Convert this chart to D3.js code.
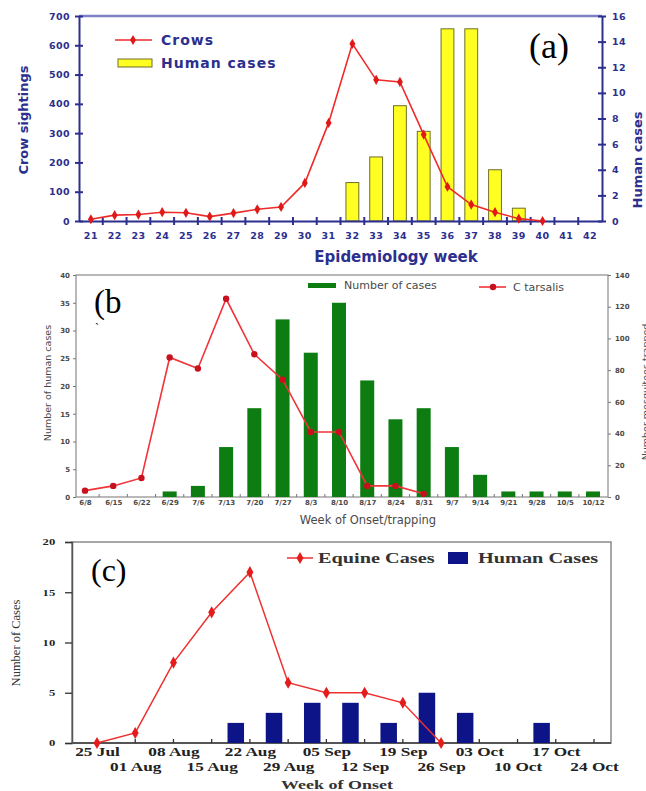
<!DOCTYPE html>
<html>
<head>
<meta charset="utf-8">
<script src="https://cdn.jsdelivr.net/npm/d3@7"></script>
<style>
body { margin: 0; background: #fff; }
</style>
</head>
<body>
<svg width="646" height="791"></svg>
<script>
"use strict";
// ---- (a) crow sightings vs human cases ----
const weeksA = ["21","22","23","24","25","26","27","28","29","30","31","32","33","34","35","36","37","38","39","40","41","42"];
const crowWeeks = ["21","22","23","24","25","26","27","28","29","30","31","32","33","34","35","36","37","38","39","40"];
const crows = [6, 20, 22, 30, 28, 15, 27, 40, 48, 130, 335, 605, 482, 475, 295, 117, 56, 30, 8, 0];
const humanWeeksA = ["32","33","34","35","36","37","38","39"];
const humanA = [3, 5, 9, 7, 15, 15, 4, 1];
const crowTicks = [0, 100, 200, 300, 400, 500, 600, 700];
const humanTicksA = [0, 2, 4, 6, 8, 10, 12, 14, 16];

// ---- (b) human cases vs C. tarsalis ----
const weeksB = ["6/8","6/15","6/22","6/29","7/6","7/13","7/20","7/27","8/3","8/10","8/17","8/24","8/31","9/7","9/14","9/21","9/28","10/5","10/12"];
const casesB = [0, 0, 0, 1, 2, 9, 16, 32, 26, 35, 21, 14, 16, 9, 4, 1, 1, 1, 1];
const tarsWeeks = ["6/8","6/15","6/22","6/29","7/6","7/13","7/20","7/27","8/3","8/10","8/17","8/24","8/31"];
const tarsalis = [4, 7, 12, 88, 81, 125, 90, 74, 41, 41, 7, 7, 2];
const casesTicksB = [0, 5, 10, 15, 20, 25, 30, 35, 40];
const mosqTicksB = [0, 20, 40, 60, 80, 100, 120, 140];

// ---- (c) equine vs human cases ----
const weeksC = ["25 Jul","01 Aug","08 Aug","15 Aug","22 Aug","29 Aug","05 Sep","12 Sep","19 Sep","26 Sep","03 Oct","10 Oct","17 Oct","24 Oct"];
const equineWeeks = ["25 Jul","01 Aug","08 Aug","15 Aug","22 Aug","29 Aug","05 Sep","12 Sep","19 Sep","26 Sep"];
const equine = [0, 1, 8, 13, 17, 6, 5, 5, 4, 0];
const humanWeeksC = ["22 Aug","29 Aug","05 Sep","12 Sep","19 Sep","26 Sep","03 Oct","17 Oct"];
const humanC = [2, 3, 4, 4, 2, 5, 3, 2];
const ticksC = [0, 5, 10, 15, 20];

let svg = d3.select("svg");
svg.append("rect").attr("width", 646).attr("height", 791).attr("fill", "#fff");

// ================= panel a =================
const navy = "#2c2f8e";
const redA = "#ee2a2a";
let ga = svg.append("g");
let xa = d3.scaleBand().domain(weeksA).range([79, 602]);
let ya = d3.scaleLinear().domain([0, 700]).range([221, 16]);
let ya2 = d3.scaleLinear().domain([0, 16]).range([221, 16]);
let cxa = w => xa(w) + xa.bandwidth() / 2;
let bwA = xa.bandwidth() * 0.54;

ga.selectAll(".bar").data(humanA).enter().append("rect")
    .attr("x", (d, i) => cxa(humanWeeksA[i]) - bwA / 2)
    .attr("width", bwA)
    .attr("y", d => ya2(d))
    .attr("height", d => ya2(0) - ya2(d))
    .attr("fill", "#ffff22")
    .attr("stroke", "#6f6f2a")
    .attr("stroke-width", 1);

// top frame
ga.append("line").attr("x1", 79).attr("x2", 602).attr("y1", 16).attr("y2", 16)
    .attr("stroke", "#7d80c2").attr("stroke-width", 2.5);

let axL = ga.append("g").attr("transform", "translate(79,0)")
    .call(d3.axisLeft(ya).tickValues(crowTicks).tickSize(4).tickSizeOuter(0).tickPadding(5));
axL.selectAll(".tick line").attr("x1", 4);
let axR = ga.append("g").attr("transform", "translate(602,0)")
    .call(d3.axisRight(ya2).tickValues(humanTicksA).tickSize(4).tickSizeOuter(0).tickPadding(6));
axR.selectAll(".tick line").attr("x1", -4);
let axB = ga.append("g").attr("transform", "translate(0,221)")
    .call(d3.axisBottom(xa).tickSize(0).tickPadding(11));
[axL, axR, axB].forEach(a => {
    a.select(".domain").attr("stroke", navy).attr("stroke-width", 2);
    a.selectAll(".tick line").attr("stroke", navy).attr("stroke-width", 2);
    a.selectAll("text").attr("fill", navy)
        .style("font", "bold 9.5px 'DejaVu Sans'").style("letter-spacing", "0.4px");
});
// x ticks at week boundaries
ga.selectAll(".bt").data(weeksA.slice(1)).enter().append("line")
    .attr("x1", d => xa(d)).attr("x2", d => xa(d))
    .attr("y1", 217).attr("y2", 225)
    .attr("stroke", navy).attr("stroke-width", 2);

let lineA = d3.line().x((d, i) => cxa(crowWeeks[i])).y(d => ya(d));
ga.append("path").datum(crows).attr("d", lineA)
    .attr("fill", "none").attr("stroke", redA).attr("stroke-width", 1.6);
ga.selectAll(".mk").data(crows).enter().append("path")
    .attr("d", d3.symbol(d3.symbolDiamond, 30))
    .attr("transform", (d, i) => "translate(" + cxa(crowWeeks[i]) + "," + ya(d) + ")")
    .attr("fill", "#e01818");

// legend a
ga.append("line").attr("x1", 115).attr("x2", 152).attr("y1", 40).attr("y2", 40)
    .attr("stroke", redA).attr("stroke-width", 1.6);
ga.append("path").attr("d", d3.symbol(d3.symbolDiamond, 30)).attr("transform", "translate(133,40)")
    .attr("fill", "#e01818");
ga.append("rect").attr("x", 118).attr("y", 59).attr("width", 34).attr("height", 8)
    .attr("fill", "#ffff22").attr("stroke", "#6f6f2a");
ga.selectAll(".lg").data(["Crows", "Human cases"]).enter().append("text")
    .attr("x", 161).attr("y", (d, i) => 45 + i * 23)
    .attr("fill", navy).style("font", "bold 14px 'DejaVu Sans'").style("letter-spacing", "1px")
    .text(d => d);

ga.append("text").attr("transform", "translate(28,120) rotate(-90)")
    .attr("text-anchor", "middle").attr("fill", navy)
    .style("font", "bold 13px 'DejaVu Sans'").text("Crow sightings");
ga.append("text").attr("transform", "translate(642,160) rotate(-90)")
    .attr("text-anchor", "middle").attr("fill", navy)
    .style("font", "bold 13px 'DejaVu Sans'").text("Human cases");
ga.append("text").attr("x", 396).attr("y", 262)
    .attr("text-anchor", "middle").attr("fill", navy)
    .style("font", "bold 15px 'DejaVu Sans'").text("Epidemiology week");
ga.append("text").attr("x", 529).attr("y", 58)
    .style("font", "36px 'Liberation Serif'").text("(a)");

// ================= panel b =================
const grayB = "#4a4a4a";
let gb = svg.append("g");
let xb = d3.scalePoint().domain(weeksB).range([85, 593]);
let yb = d3.scaleLinear().domain([0, 40]).range([497, 275]);
let yb2 = d3.scaleLinear().domain([0, 140]).range([497, 275]);

gb.append("rect").attr("x", 76).attr("y", 275).attr("width", 532).attr("height", 222)
    .attr("fill", "none").attr("stroke", "#8a8a8a").attr("stroke-width", 1.2);

gb.selectAll(".bar").data(casesB).enter().append("rect")
    .attr("x", (d, i) => xb(weeksB[i]) - 7)
    .attr("width", 14)
    .attr("y", d => yb(d))
    .attr("height", d => yb(0) - yb(d))
    .attr("fill", "#0d7d12");

let bL = gb.append("g").attr("transform", "translate(76,0)")
    .call(d3.axisLeft(yb).tickValues(casesTicksB).tickSize(3).tickPadding(3));
let bR = gb.append("g").attr("transform", "translate(608,0)")
    .call(d3.axisRight(yb2).tickValues(mosqTicksB).tickSize(3).tickPadding(4));
let bB = gb.append("g").attr("transform", "translate(0,497)")
    .call(d3.axisBottom(xb).tickSize(0).tickPadding(3));
[bL, bR, bB].forEach(a => {
    a.select(".domain").remove();
    a.selectAll(".tick line").attr("stroke", "#777");
    a.selectAll("text").attr("fill", grayB).style("font", "bold 7px 'DejaVu Sans'");
});
// little ticks between weeks
gb.selectAll(".bt").data(weeksB.slice(1)).enter().append("line")
    .attr("x1", d => xb(d) - xb.step() / 2).attr("x2", d => xb(d) - xb.step() / 2)
    .attr("y1", 497).attr("y2", 494).attr("stroke", "#777");

let lineB = d3.line().x((d, i) => xb(tarsWeeks[i])).y(d => yb2(d));
gb.append("path").datum(tarsalis).attr("d", lineB)
    .attr("fill", "none").attr("stroke", "#f0343a").attr("stroke-width", 1.6);
gb.selectAll(".mk").data(tarsalis).enter().append("circle")
    .attr("cx", (d, i) => xb(tarsWeeks[i])).attr("cy", d => yb2(d)).attr("r", 3.2)
    .attr("fill", "#c8101e");

// legend b
gb.append("rect").attr("x", 308).attr("y", 283).attr("width", 28).attr("height", 5).attr("fill", "#0d7d12");
gb.append("text").attr("x", 344).attr("y", 289).attr("fill", grayB)
    .style("font", "11px 'DejaVu Sans'").text("Number of cases");
gb.append("line").attr("x1", 479).attr("x2", 506).attr("y1", 287).attr("y2", 287)
    .attr("stroke", "#f0343a").attr("stroke-width", 1.6);
gb.append("circle").attr("cx", 493).attr("cy", 287).attr("r", 3.2).attr("fill", "#c8101e");
gb.append("text").attr("x", 513).attr("y", 291).attr("fill", grayB)
    .style("font", "11px 'DejaVu Sans'").text("C tarsalis");

gb.append("text").attr("transform", "translate(51,383) rotate(-90)")
    .attr("text-anchor", "middle").attr("fill", grayB)
    .style("font", "9.5px 'DejaVu Sans'").text("Number of human cases");
gb.append("text").attr("transform", "translate(649,392) rotate(-90)")
    .attr("text-anchor", "middle").attr("fill", grayB)
    .style("font", "9.5px 'DejaVu Sans'").text("Number mosquitoes trapped");
gb.append("text").attr("x", 368).attr("y", 524)
    .attr("text-anchor", "middle").attr("fill", grayB)
    .style("font", "11.5px 'DejaVu Sans'").text("Week of Onset/trapping");
gb.append("text").attr("x", 94).attr("y", 313)
    .style("font", "33px 'Liberation Serif'").text("(b");
gb.append("text").attr("x", 95).attr("y", 332)
    .style("font", "12px 'Liberation Serif'").text("`");

// ================= panel c =================
let gc = svg.append("g");
let xc = d3.scalePoint().domain(weeksC).range([97, 594]);
let yc = d3.scaleLinear().domain([0, 20]).range([743, 542]);
let serif = "'Liberation Serif'";

gc.append("rect").attr("x", 72).attr("y", 542).attr("width", 539).attr("height", 201)
    .attr("fill", "none").attr("stroke", "#8a8a8a").attr("stroke-width", 1.5);
gc.append("line").attr("x1", 72).attr("x2", 611).attr("y1", 743).attr("y2", 743)
    .attr("stroke", "#555").attr("stroke-width", 1.8);

let bwC = 16.5;
let offC = xc.step() * 0.37;
gc.selectAll(".bar").data(humanC).enter().append("rect")
    .attr("x", (d, i) => xc(humanWeeksC[i]) - offC - bwC / 2)
    .attr("width", bwC)
    .attr("y", d => yc(d))
    .attr("height", d => yc(0) - yc(d))
    .attr("fill", "#0c1488");

let cL = gc.append("g").attr("transform", "translate(72,0)")
    .call(d3.axisLeft(yc).tickValues(ticksC).tickSize(7).tickPadding(5));
cL.select(".domain").attr("stroke", "#555").attr("stroke-width", 1.5);
cL.selectAll(".tick line").attr("stroke", "#333").attr("stroke-width", 1.3);
cL.selectAll("text").attr("fill", "#222").attr("transform", "scale(1.4,1)")
    .style("font", "bold 9px " + serif);

let cB = gc.append("g").attr("transform", "translate(0,743)")
    .call(d3.axisBottom(xc).tickSize(0));
cB.select(".domain").remove();
cB.selectAll("text").attr("fill", "#222")
    .attr("y", (d, i) => i % 2 ? 20 : 4.5)
    .attr("transform", "scale(1.5,1)")
    .style("font", "bold 11.5px " + serif);
gc.selectAll(".bt").data(weeksC).enter().append("line")
    .attr("x1", d => xc(d)).attr("x2", d => xc(d))
    .attr("y1", 743).attr("y2", 739).attr("stroke", "#333").attr("stroke-width", 1.3);

let lineC = d3.line().x((d, i) => xc(equineWeeks[i])).y(d => yc(d));
gc.append("path").datum(equine).attr("d", lineC)
    .attr("fill", "none").attr("stroke", "#ee3030").attr("stroke-width", 1.5);
gc.selectAll(".mk").data(equine).enter().append("path")
    .attr("d", d3.symbol(d3.symbolDiamond, 42))
    .attr("transform", (d, i) => "translate(" + xc(equineWeeks[i]) + "," + yc(d) + ")")
    .attr("fill", "#e41c1c");

// legend c
gc.append("line").attr("x1", 287).attr("x2", 313).attr("y1", 558).attr("y2", 558)
    .attr("stroke", "#ee3030").attr("stroke-width", 1.5);
gc.append("path").attr("d", d3.symbol(d3.symbolDiamond, 42)).attr("transform", "translate(300,558)")
    .attr("fill", "#e41c1c");
gc.append("rect").attr("x", 448).attr("y", 552).attr("width", 20).attr("height", 12).attr("fill", "#0c1488");
gc.append("text").attr("transform", "translate(318,563) scale(1.45,1)").attr("fill", "#333")
    .style("font", "bold 14px " + serif).text("Equine Cases");
gc.append("text").attr("transform", "translate(478,563) scale(1.45,1)").attr("fill", "#333")
    .style("font", "bold 14px " + serif).text("Human Cases");

gc.append("text").attr("transform", "translate(20,643) rotate(-90)")
    .attr("text-anchor", "middle").attr("fill", "#333")
    .style("font", "12.5px " + serif).text("Number of Cases");
gc.append("text").attr("transform", "translate(337,789) scale(1.5,1)")
    .attr("text-anchor", "middle").attr("fill", "#333")
    .style("font", "bold 12px " + serif).text("Week of Onset");
gc.append("text").attr("x", 91).attr("y", 581)
    .style("font", "32px " + serif).text("(c)");
</script>
</body>
</html>
